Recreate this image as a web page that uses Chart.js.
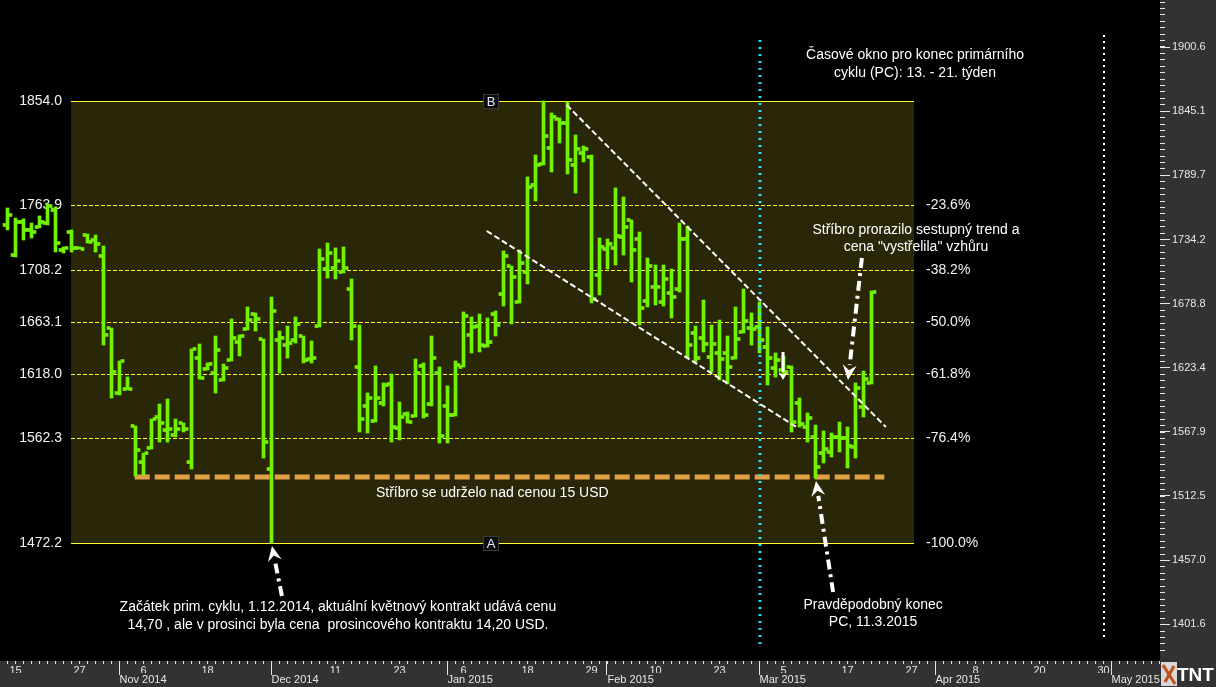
<!DOCTYPE html>
<html>
<head>
<meta charset="utf-8">
<title>Stříbro - primární cyklus</title>
<script src="https://cdn.jsdelivr.net/npm/chart.js@4.4.1/dist/chart.umd.min.js"></script>
<style>
  html, body { margin: 0; padding: 0; background: #000; }
  #wrap { width: 1216px; height: 687px; position: relative; }
</style>
</head>
<body>
<div id="wrap"><canvas id="silverChart"></canvas></div>
<script>
/**
 * Silver (May contract) daily OHLC bars, mid Oct 2014 - 20 Mar 2015
 * index 0 = first bar on the left, one bar per trading day
 */

const opens = [
    1746.8, 1720.8, 1749.4, 1742.5, 1745.0, 1748.5, 1759.7, 1725.2, 1740.7, 1726.9,
    1738.1, 1733.8, 1720.0, 1657.7, 1601.5, 1605.0, 1573.0, 1541.8, 1554.0, 1580.8,
    1569.5, 1565.2, 1575.6, 1541.8, 1631.8, 1622.3, 1618.8, 1612.8, 1630.0, 1645.6,
    1656.8, 1669.8, 1648.2, 1535.8, 1647.3, 1643.0, 1647.3, 1650.8, 1630.9, 1659.4,
    1708.7, 1709.6, 1706.1, 1691.4, 1624.0, 1590.3, 1577.3, 1592.9, 1609.3, 1571.2,
    1583.4, 1581.6, 1624.9, 1592.0, 1618.8, 1590.3, 1582.5, 1624.0, 1651.7, 1659.4,
    1642.2, 1669.8, 1687.1, 1711.3, 1680.2, 1706.1, 1781.4, 1799.5, 1813.4, 1838.4,
    1835.0, 1798.7, 1809.0, 1805.6, 1703.5, 1726.0, 1726.9, 1736.4, 1751.1, 1734.7,
    1681.1, 1693.2, 1680.2, 1688.0, 1691.4, 1734.7, 1653.4, 1649.1, 1632.6, 1636.1,
    1636.1, 1631.8, 1654.3, 1657.7, 1658.6, 1641.3, 1623.1, 1621.4, 1624.0, 1592.9,
    1572.1, 1563.5, 1549.6, 1550.5, 1563.5, 1562.6, 1554.8, 1589.4, 1610.2
];
const highs = [
    1761.5, 1752.8, 1752.0, 1748.5, 1754.6, 1764.9, 1762.3, 1727.8, 1742.5, 1727.8,
    1739.0, 1738.1, 1728.6, 1657.7, 1629.2, 1615.3, 1573.0, 1549.6, 1579.0, 1592.0,
    1596.3, 1579.0, 1575.6, 1639.6, 1643.9, 1627.5, 1650.8, 1626.6, 1665.5, 1651.7,
    1675.9, 1670.7, 1648.2, 1684.5, 1655.1, 1659.4, 1667.2, 1650.8, 1646.5, 1726.0,
    1731.2, 1726.9, 1727.8, 1700.1, 1660.3, 1601.5, 1624.9, 1610.2, 1617.9, 1593.7,
    1585.1, 1630.9, 1627.5, 1650.8, 1624.0, 1607.6, 1629.2, 1671.6, 1667.2, 1669.8,
    1666.4, 1672.4, 1724.3, 1711.3, 1725.2, 1788.3, 1807.3, 1854.0, 1843.6, 1839.3,
    1853.1, 1824.6, 1815.1, 1807.3, 1735.5, 1734.7, 1778.8, 1771.0, 1751.1, 1740.7,
    1718.2, 1712.2, 1712.2, 1708.7, 1748.5, 1745.9, 1659.4, 1681.9, 1660.3, 1664.6,
    1650.8, 1675.9, 1691.4, 1670.7, 1680.2, 1658.6, 1636.1, 1633.5, 1624.9, 1597.2,
    1584.2, 1573.8, 1568.7, 1566.9, 1576.4, 1572.1, 1610.2, 1620.5, 1689.7
];
const lows = [
    1742.5, 1719.1, 1733.8, 1735.5, 1744.2, 1746.8, 1723.4, 1722.6, 1723.4, 1726.0,
    1731.2, 1723.4, 1643.0, 1597.2, 1599.8, 1604.1, 1529.7, 1530.6, 1553.1, 1559.1,
    1559.1, 1563.5, 1567.8, 1535.8, 1613.6, 1621.4, 1601.5, 1611.9, 1629.2, 1633.5,
    1656.0, 1655.1, 1545.3, 1472.2, 1618.8, 1631.8, 1644.7, 1627.5, 1627.5, 1658.6,
    1700.9, 1700.1, 1705.3, 1647.3, 1567.8, 1566.9, 1576.4, 1590.3, 1559.1, 1560.9,
    1575.6, 1580.8, 1579.9, 1590.3, 1558.3, 1558.3, 1581.6, 1624.0, 1636.1, 1637.0,
    1641.3, 1650.8, 1676.7, 1661.2, 1679.3, 1695.8, 1767.5, 1798.7, 1792.6, 1817.7,
    1790.9, 1774.4, 1801.3, 1679.3, 1686.3, 1708.7, 1712.2, 1720.8, 1697.5, 1660.3,
    1675.9, 1677.6, 1676.7, 1666.4, 1688.8, 1631.8, 1628.3, 1637.0, 1619.7, 1612.8,
    1609.3, 1630.9, 1653.4, 1643.0, 1636.1, 1608.4, 1615.3, 1616.2, 1567.8, 1572.1,
    1559.1, 1528.0, 1541.0, 1546.2, 1550.5, 1536.7, 1545.3, 1580.8, 1609.3
];
const closes = [
    1755.4, 1749.4, 1742.5, 1740.7, 1749.4, 1763.2, 1731.2, 1726.9, 1726.9, 1726.0,
    1732.1, 1730.4, 1651.7, 1619.7, 1629.2, 1605.0, 1552.2, 1549.6, 1579.0, 1575.6,
    1570.4, 1570.4, 1570.4, 1639.6, 1614.5, 1626.6, 1638.7, 1623.1, 1649.1, 1650.8,
    1664.6, 1665.5, 1559.1, 1672.4, 1649.1, 1644.7, 1661.2, 1630.0, 1631.8, 1717.4,
    1722.6, 1715.7, 1709.6, 1659.4, 1579.0, 1597.2, 1597.2, 1608.4, 1572.1, 1580.8,
    1576.4, 1618.8, 1582.5, 1631.8, 1564.3, 1582.5, 1625.7, 1668.1, 1658.6, 1643.0,
    1645.6, 1660.3, 1720.0, 1701.8, 1713.9, 1779.6, 1798.7, 1823.7, 1840.2, 1835.0,
    1803.0, 1812.5, 1812.5, 1682.8, 1727.8, 1730.4, 1737.3, 1745.0, 1725.2, 1675.0,
    1711.3, 1693.2, 1700.1, 1684.5, 1734.7, 1643.0, 1631.8, 1643.9, 1643.9, 1630.9,
    1624.0, 1648.2, 1663.8, 1656.8, 1647.3, 1631.8, 1630.0, 1619.7, 1576.4, 1574.7,
    1579.9, 1537.5, 1553.1, 1563.5, 1562.6, 1555.7, 1605.8, 1613.6, 1688.8
];

// Fibonacci retracement A (1.12.2014 low) -> B (Jan 2015 high)
const fibLevels   = [1854.0, 1763.9, 1708.2, 1663.1, 1618.0, 1562.3, 1472.2];
const fibPercents = ['', '-23.6%', '-38.2%', '-50.0%', '-61.8%', '-76.4%', '-100.0%'];
const supportLevel = 1528.9;   // orange line, ~15 USD

// axis labels
const rightTicks  = [1900.6, 1845.1, 1789.7, 1734.2, 1678.8, 1623.4, 1567.9, 1512.5, 1457.0, 1401.6];
const dayLabels   = ['15', '27', '6', '18', '', '11', '23', '6', '18', '29', '10', '23', '5', '17', '27', '8', '20', '30'];
const monthLabels = ['Nov 2014', 'Dec 2014', 'Jan 2015', 'Feb 2015', 'Mar 2015', 'Apr 2015', 'May 2015'];
const monthStarts = [14, 33, 55, 75, 94, 116, 138];   // bar index of first trading day

// scale ranges (145 slots of 8px, future days stay empty)
const X_MIN = -0.9375;
const X_MAX = 144.0625;
const Y_MAX = 1941.3;
const Y_MIN = 1369.8;
const TICK_H = 1.3;   // half height of open/close tick in price units

const FONT = '"Liberation Sans", Arial, sans-serif';
const GREEN = '#70f200';

// annotations (x = bar index, y = price)
const trendLines = [
    { from: [69.9, 1850.5], to: [109.8, 1572.1] },
    { from: [59.9, 1741.6], to: [98.8, 1571.3] }
];
const arrows = [
    { tail: [34.3, 1426.0], tip: [33.06, 1469.2], dash: true },
    { tail: [103.2, 1429.4], tip: [101.06, 1525.4], dash: true },
    { tail: [106.8, 1718.2], tip: [105.06, 1612.8], dash: true },
    { tail: [96.94, 1637.0], tip: [96.94, 1612.8], dash: false }
];
const notes = [
    { x: 113.44, y: 1893.8, text: 'Časové okno pro konec primárního' },
    { x: 113.44, y: 1878.2, text: 'cyklu (PC): 13. - 21. týden' },
    { x: 113.56, y: 1742.5, text: 'Stříbro prorazilo sestupný trend a' },
    { x: 113.56, y: 1727.8, text: 'cena "vystřelila" vzhůru' },
    { x: 41.3,   y: 1416.5, text: 'Začátek prim. cyklu, 1.12.2014, aktuální květnový kontrakt udává cenu' },
    { x: 41.3,   y: 1400.9, text: '14,70 , ale v prosinci byla cena  prosincového kontraktu 14,20 USD.' },
    { x: 108.2,  y: 1418.2, text: 'Pravděpodobný konec' },
    { x: 108.2,  y: 1403.5, text: 'PC, 11.3.2015' },
    { x: 60.6,   y: 1515.0, text: 'Stříbro se udrželo nad cenou 15 USD' }
];

function tickBars(vals) {
    return vals.map((v, i) => ({ x: i, y: [v - TICK_H, v + TICK_H] }));
}

function drawArrow(ctx, x1, y1, x2, y2, dashed) {
    const ang = Math.atan2(y2 - y1, x2 - x1);
    const head = dashed ? 15 : 8;
    const half = dashed ? 7 : 4.5;
    const bx = x2 - Math.cos(ang) * head, by = y2 - Math.sin(ang) * head;
    ctx.strokeStyle = '#fff';
    ctx.fillStyle = '#fff';
    ctx.lineWidth = dashed ? 4 : 3;
    ctx.setLineDash(dashed ? [10, 5, 3, 5] : []);
    ctx.beginPath(); ctx.moveTo(x1, y1); ctx.lineTo(bx, by); ctx.stroke();
    ctx.setLineDash([]);
    ctx.beginPath();
    ctx.moveTo(x2, y2);
    ctx.lineTo(bx + Math.sin(ang) * half, by - Math.cos(ang) * half);
    ctx.lineTo(bx + Math.cos(ang) * head * 0.35, by + Math.sin(ang) * head * 0.35);
    ctx.lineTo(bx - Math.sin(ang) * half, by + Math.cos(ang) * half);
    ctx.closePath();
    ctx.fill();
}

const overlayPlugin = {
    id: 'overlay',
    beforeDraw(chart) {
        const { ctx, chartArea: a, width, height } = chart;
        ctx.save();
        ctx.fillStyle = '#000';
        ctx.fillRect(0, 0, width, height);
        ctx.fillStyle = '#323232';
        ctx.fillRect(a.right, 0, width - a.right, height);
        ctx.fillRect(0, a.bottom, width, height - a.bottom);
        ctx.restore();
    },
    beforeDatasetsDraw(chart) {
        const { ctx } = chart;
        const px = v => chart.scales.x.getPixelForValue(v);
        const py = v => chart.scales.y.getPixelForValue(v);
        const x0 = Math.round(px(7.9)), x1 = Math.round(px(113.25));
        const top = Math.round(py(fibLevels[0])), bot = Math.round(py(fibLevels[fibLevels.length - 1]));
        ctx.save();
        // fib zone
        ctx.fillStyle = '#2a2708';
        ctx.fillRect(x0, top, x1 - x0, bot - top);
        ctx.font = `14px ${FONT}`;
        ctx.textBaseline = 'middle';
        fibLevels.forEach((lv, k) => {
            const y = Math.round(py(lv)) + 0.5;
            const edge = k === 0 || k === fibLevels.length - 1;
            ctx.strokeStyle = '#ffff30';
            ctx.lineWidth = 1;
            ctx.setLineDash(edge ? [] : [4, 2]);
            ctx.beginPath(); ctx.moveTo(x0, y); ctx.lineTo(x1, y); ctx.stroke();
            ctx.setLineDash([]);
            ctx.fillStyle = '#f2f2f2';
            ctx.textAlign = 'right';
            ctx.fillText(lv.toFixed(1), x0 - 9, y);
            if (fibPercents[k]) {
                ctx.textAlign = 'left';
                ctx.fillText(fibPercents[k], x1 + 12, y);
            }
        });
        // support ~15 USD
        const ys = Math.round(py(supportLevel));
        ctx.strokeStyle = '#e1a046';
        ctx.lineWidth = 5;
        ctx.setLineDash([15, 5]);
        ctx.beginPath(); ctx.moveTo(px(15.9), ys); ctx.lineTo(px(109.6), ys); ctx.stroke();
        ctx.setLineDash([]);
        ctx.restore();
    },
    afterDatasetsDraw(chart) {
        const { ctx, chartArea: a } = chart;
        const px = v => chart.scales.x.getPixelForValue(v);
        const py = v => chart.scales.y.getPixelForValue(v);
        ctx.save();

        // time window markers
        ctx.lineWidth = 3;
        ctx.strokeStyle = '#20e0ff';
        ctx.setLineDash([2, 5]);
        ctx.beginPath(); ctx.moveTo(Math.round(px(94)), py(1906.7)); ctx.lineTo(Math.round(px(94)), py(1383.6)); ctx.stroke();
        ctx.lineWidth = 2;
        ctx.setLineDash([2, 4]);
        ctx.strokeStyle = '#ffffff';
        ctx.beginPath(); ctx.moveTo(Math.round(px(137)), py(1911.1)); ctx.lineTo(Math.round(px(137)), py(1387.1)); ctx.stroke();

        // falling channel
        ctx.strokeStyle = '#ffffff';
        ctx.lineWidth = 2;
        ctx.setLineDash([6, 3]);
        trendLines.forEach(t => {
            ctx.beginPath();
            ctx.moveTo(px(t.from[0]), py(t.from[1]));
            ctx.lineTo(px(t.to[0]), py(t.to[1]));
            ctx.stroke();
        });
        ctx.setLineDash([]);

        arrows.forEach(ar => drawArrow(ctx, px(ar.tail[0]), py(ar.tail[1]), px(ar.tip[0]), py(ar.tip[1]), ar.dash));

        // A / B markers
        ctx.font = `13px ${FONT}`;
        ctx.textAlign = 'center';
        ctx.textBaseline = 'middle';
        [[fibLevels[0], 'B'], [fibLevels[fibLevels.length - 1], 'A']].forEach(([lv, t]) => {
            const cx = Math.round(px(60.44)), cy = Math.round(py(lv));
            ctx.fillStyle = '#0c0c0c';
            ctx.fillRect(cx - 8, cy - 7, 16, 15);
            ctx.strokeStyle = '#3a3a3a';
            ctx.lineWidth = 1;
            ctx.strokeRect(cx - 7.5, cy - 6.5, 15, 14);
            ctx.fillStyle = '#dfe8ff';
            ctx.fillText(t, cx, cy + 1);
        });

        // notes
        ctx.font = `14px ${FONT}`;
        ctx.fillStyle = '#ffffff';
        notes.forEach(n => ctx.fillText(n.text, px(n.x), py(n.y)));

        // month separators on the date axis
        ctx.strokeStyle = '#e6e6e6';
        ctx.lineWidth = 1;
        monthStarts.forEach(m => {
            const x = Math.round(px(m)) - 0.5;
            ctx.beginPath(); ctx.moveTo(x, a.bottom); ctx.lineTo(x, a.bottom + 14); ctx.stroke();
        });

        // minor ticks on price axis
        const step = (rightTicks[0] - rightTicks[1]) / 10;
        ctx.strokeStyle = '#e6e6e6';
        for (let v = rightTicks[rightTicks.length - 1] - 4 * step; v < Y_MAX; v += step) {
            const y = Math.round(py(v)) + 0.5;
            if (y < a.top || y > a.bottom) continue;
            ctx.beginPath(); ctx.moveTo(a.right, y); ctx.lineTo(a.right + 5, y); ctx.stroke();
        }

        // TNT logo corner
        const lx = a.right + 1, ly = a.bottom + 1;
        ctx.fillStyle = '#d8d8d8';
        ctx.fillRect(lx, ly, 16, 24);
        ctx.strokeStyle = '#c0501c';
        ctx.lineWidth = 3;
        ctx.beginPath(); ctx.moveTo(lx + 2, ly + 3); ctx.lineTo(lx + 14, ly + 22); ctx.stroke();
        ctx.beginPath(); ctx.moveTo(lx + 13, ly + 4); ctx.lineTo(lx + 4, ly + 20); ctx.stroke();
        ctx.fillStyle = '#ffffff';
        ctx.font = `bold 19px ${FONT}`;
        ctx.textAlign = 'left';
        ctx.fillText('TNT', lx + 16, ly + 14);

        ctx.restore();
    }
};

const ctx = document.getElementById('silverChart').getContext('2d');
const silverChart = new Chart(ctx, {
    type: 'bar',
    data: {
        datasets: [
            { label: 'Open', data: tickBars(opens), backgroundColor: GREEN, barThickness: 3 },
            { label: 'High-Low', data: lows.map((l, i) => ({ x: i, y: [l, highs[i]] })), backgroundColor: GREEN, barThickness: 3 },
            { label: 'Close', data: tickBars(closes), backgroundColor: GREEN, barThickness: 3 }
        ]
    },
    options: {
        animation: false,
        responsive: true,
        maintainAspectRatio: false,
        layout: { padding: 0 },
        plugins: { legend: { display: false }, tooltip: { enabled: false } },
        scales: {
            x: {
                type: 'linear', position: 'bottom', min: X_MIN, max: X_MAX, offset: false,
                grid: { offset: false, drawOnChartArea: false, drawTicks: true, tickLength: 3, color: '#e6e6e6' },
                border: { display: false },
                afterBuildTicks: s => { s.ticks = []; for (let i = 0; i <= 144; i++) s.ticks.push({ value: i }); },
                afterFit: s => { s.height = 12; s.paddingLeft = 0; s.paddingRight = 0; },
                ticks: {
                    autoSkip: false, maxRotation: 0, padding: 0, color: '#e6e6e6',
                    font: { family: FONT, size: 11 },
                    callback: v => ((v - 1) % 8 === 0 ? (dayLabels[(v - 1) / 8] || '') : '')
                }
            },
            xm: {
                type: 'linear', position: 'bottom', weight: 1, min: X_MIN, max: X_MAX, offset: false,
                grid: { display: false, drawTicks: false, tickLength: 0 }, border: { display: false },
                afterBuildTicks: s => { s.ticks = monthStarts.map(v => ({ value: v })); },
                afterFit: s => { s.height = 14; s.paddingLeft = 0; s.paddingRight = 0; },
                ticks: {
                    autoSkip: false, maxRotation: 0, align: 'start', padding: 0, color: '#e6e6e6',
                    font: { family: FONT, size: 11 },
                    callback: (v, k) => monthLabels[k]
                }
            },
            y: {
                type: 'linear', position: 'right', min: Y_MIN, max: Y_MAX,
                grid: { drawOnChartArea: false, tickLength: 10, color: '#e6e6e6' },
                border: { display: false },
                afterBuildTicks: s => { s.ticks = rightTicks.map(v => ({ value: v })); },
                afterFit: s => { s.width = 56; s.paddingTop = 0; s.paddingBottom = 0; },
                ticks: {
                    padding: 2, color: '#e6e6e6', font: { family: FONT, size: 11 },
                    callback: v => v.toFixed(1)
                }
            }
        }
    },
    plugins: [overlayPlugin]
});
</script>
</body>
</html>
